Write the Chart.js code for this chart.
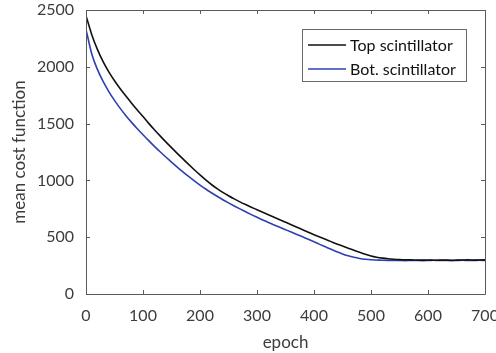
<!DOCTYPE html>
<html>
<head>
<meta charset="utf-8">
<script src="https://cdn.jsdelivr.net/npm/chart.js@4/dist/chart.umd.min.js"></script>
<style>
  html, body { margin: 0; padding: 0; background: #fff; }
  #wrap { width: 496px; height: 353px; }
</style>
</head>
<body>
<div id="wrap"><canvas id="chart" width="496" height="353"></canvas></div>
<script>
"use strict";

// epochs sampled every 10
const epochs = [
  0, 10, 20, 30, 40, 50, 60, 70, 80, 90, 100, 110, 120, 130, 140, 150, 160, 170, 180, 190,
  200, 210, 220, 230, 240, 250, 260, 270, 280, 290, 300, 310, 320, 330, 340, 350, 360, 370, 380, 390,
  400, 410, 420, 430, 440, 450, 460, 470, 480, 490, 500, 510, 520, 530, 540, 550, 560, 570, 580, 590,
  600, 610, 620, 630, 640, 650, 660, 670, 680, 690, 700,
];

const topScint = [
  2450, 2285, 2153, 2045, 1955, 1877, 1807, 1742, 1680, 1620, 1562, 1502, 1446, 1392, 1339, 1288, 1238, 1189, 1141, 1094,
  1048, 1004, 964, 928, 895, 865, 837, 811, 787, 764, 742, 720, 698, 676, 654, 632, 610, 588, 566, 544,
  522, 501, 481, 461, 441, 422, 403, 385, 367, 350, 335, 324, 316, 310, 306, 303, 301, 300, 299, 298,
  299, 297, 298, 299, 297, 298, 299, 300, 298, 299, 300,
];

const botScint = [
  2330, 2115, 1977, 1871, 1782, 1704, 1634, 1570, 1511, 1455, 1402, 1350, 1300, 1252, 1206, 1161, 1117, 1075, 1035, 996,
  959, 924, 891, 860, 830, 802, 775, 749, 724, 699, 675, 652, 630, 608, 587, 566, 545, 524, 503, 482,
  460, 437, 415, 393, 372, 353, 336, 323, 313, 306, 301, 299, 297, 296, 296, 295, 294, 296, 295, 294,
  295, 297, 295, 296, 294, 295, 297, 296, 295, 297, 296,
];

const xTicks = [0, 100, 200, 300, 400, 500, 600, 700];
const yTicks = [0, 500, 1000, 1500, 2000, 2500];

const FONT = "Lato, 'Open Sans', sans-serif";
const AXIS = "#5a5a5a";
const TXT = "#3c3c3c";

// box ticks on all four sides, pointing inward
const boxTicks = {
  id: "boxTicks",
  afterDraw(chart) {
    const { ctx, chartArea: a, scales } = chart;
    const len = 4;
    ctx.save();
    ctx.strokeStyle = AXIS;
    ctx.lineWidth = 1;
    ctx.beginPath();
    ctx.rect(a.left + 0.5, a.top + 0.5, a.right - a.left, a.bottom - a.top);
    scales.x.ticks.forEach((t) => {
      const px = Math.round(scales.x.getPixelForValue(t.value)) + 0.5;
      ctx.moveTo(px, a.bottom); ctx.lineTo(px, a.bottom - len);
      ctx.moveTo(px, a.top); ctx.lineTo(px, a.top + len);
    });
    scales.y.ticks.forEach((t) => {
      const py = Math.round(scales.y.getPixelForValue(t.value)) + 0.5;
      ctx.moveTo(a.left, py); ctx.lineTo(a.left + len, py);
      ctx.moveTo(a.right, py); ctx.lineTo(a.right - len, py);
    });
    ctx.stroke();
    ctx.restore();
  },
};

// boxed legend in the top-right corner, matlab style
const boxLegend = {
  id: "boxLegend",
  afterDraw(chart) {
    const { ctx } = chart;
    const x = 302, y = 29, w = 164, h = 52;
    ctx.save();
    ctx.fillStyle = "#fff";
    ctx.fillRect(x, y, w, h);
    ctx.strokeStyle = "#6a6a6a";
    ctx.lineWidth = 1;
    ctx.strokeRect(x + 0.5, y + 0.5, w, h);
    ctx.font = "16px " + FONT;
    ctx.textBaseline = "middle";
    chart.data.datasets.forEach((ds, i) => {
      const ly = y + 16 + i * 24;
      ctx.strokeStyle = ds.borderColor;
      ctx.lineWidth = 1.5;
      ctx.beginPath();
      ctx.moveTo(x + 6, ly);
      ctx.lineTo(x + 44, ly);
      ctx.stroke();
      ctx.fillStyle = "#111";
      ctx.fillText(ds.label, x + 48, ly + 1);
    });
    ctx.restore();
  },
};

new Chart(document.getElementById("chart"), {
  type: "line",
  data: {
    labels: epochs,
    datasets: [
      { label: "Top scintillator", data: epochs.map((e, i) => ({ x: e, y: topScint[i] })), borderColor: "#111111", borderWidth: 1.6, pointRadius: 0, cubicInterpolationMode: "monotone", fill: false },
      { label: "Bot. scintillator", data: epochs.map((e, i) => ({ x: e, y: botScint[i] })), borderColor: "#2c40b0", borderWidth: 1.6, pointRadius: 0, cubicInterpolationMode: "monotone", fill: false },
    ],
  },
  options: {
    responsive: false,
    animation: false,
    layout: { padding: { top: 10, right: 11, left: 0, bottom: 0 } },
    plugins: { legend: { display: false }, tooltip: { enabled: false } },
    scales: {
      x: {
        type: "linear",
        min: 0,
        max: 700,
        afterBuildTicks: (s) => { s.ticks = xTicks.map((v) => ({ value: v })); },
        afterFit: (s) => { s.height = 59; s.paddingLeft = 0; s.paddingRight = 0; },
        grid: { display: false, drawTicks: false },
        border: { display: false },
        ticks: { color: TXT, font: { family: FONT, size: 16 }, padding: 12, maxRotation: 0, callback: (v) => String(v) },
        title: { display: true, text: "epoch", color: TXT, font: { family: FONT, size: 17 }, padding: { top: 0, bottom: 0 } },
      },
      y: {
        min: 0,
        max: 2500,
        afterBuildTicks: (s) => { s.ticks = yTicks.map((v) => ({ value: v })); },
        afterFit: (s) => { s.width = 86; s.paddingTop = 0; s.paddingBottom = 0; },
        grid: { display: false, drawTicks: false },
        border: { display: false },
        ticks: { color: TXT, font: { family: FONT, size: 16 }, padding: 12, callback: (v) => String(v) },
        title: { display: true, text: "mean cost function", color: TXT, font: { family: FONT, size: 17 }, padding: { top: 9, bottom: 0 } },
      },
    },
  },
  plugins: [boxTicks, boxLegend],
});
</script>
</body>
</html>
